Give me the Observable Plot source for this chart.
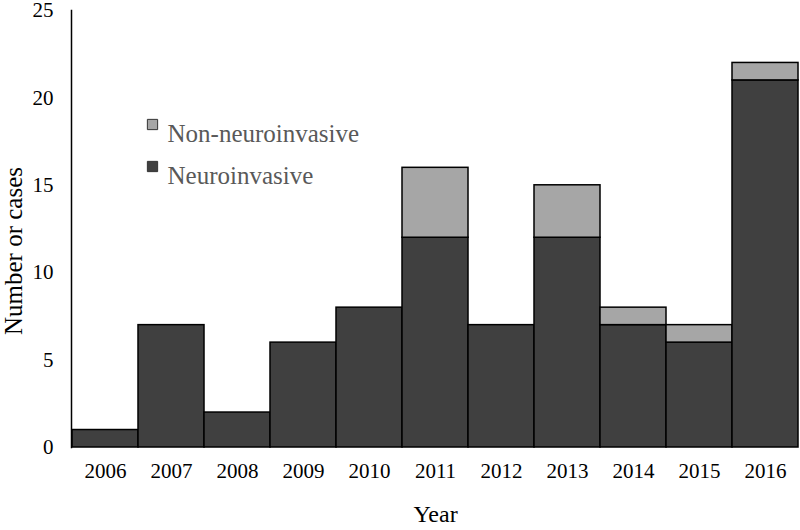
<!DOCTYPE html>
<html>
<head>
<meta charset="utf-8">
<script src="https://cdn.jsdelivr.net/npm/d3@7"></script>
<script src="https://cdn.jsdelivr.net/npm/@observablehq/plot@0.6"></script>
<style>
  body { margin: 0; background: #fff; }
  #chart { width: 800px; height: 530px; overflow: hidden; }
</style>
</head>
<body>
<div id="chart"></div>
<script>
const years = ["2006","2007","2008","2009","2010","2011","2012","2013","2014","2015","2016"];
const neuro = [1, 7, 2, 6, 8, 12, 7, 12, 7, 6, 21];
const nonNeuro = [0, 0, 0, 0, 0, 4, 0, 3, 1, 1, 1];
const seriesNames = ["Neuroinvasive", "Non-neuroinvasive"];
const seriesColors = ["#404040", "#a6a6a6"];
const yTicks = [0, 5, 10, 15, 20, 25];

const data = years.flatMap((y, i) => [
  {year: y, series: seriesNames[0], value: neuro[i]},
  {year: y, series: seriesNames[1], value: nonNeuro[i]}
]).filter(d => d.value > 0);

const legendItems = [seriesNames[1], seriesNames[0]];
const serif = "'Liberation Serif', 'Times New Roman', serif";

const chart = Plot.plot({
  width: 800,
  height: 530,
  marginLeft: 71,
  marginRight: 1,
  marginTop: 10,
  marginBottom: 83,
  style: {fontFamily: serif, fontSize: "21px", color: "#000", background: "#fff"},
  x: {domain: years, padding: 0, label: null},
  y: {domain: [0, 25], label: null},
  color: {domain: seriesNames, range: seriesColors},
  marks: [
    Plot.barY(data, Plot.stackY({order: seriesNames}, {x: "year", y: "value", fill: "series", stroke: "#000", strokeWidth: 1.5})),
    Plot.frame({anchor: "left", stroke: "#000", strokeWidth: 1.5}),
    Plot.axisY({ticks: yTicks, tickSize: 0, tickPadding: 18, fontSize: 21, fontFamily: serif, fill: "#000", label: null}),
    Plot.axisX({tickSize: 0, tickPadding: 16, fontSize: 21, fontFamily: serif, fill: "#000", label: null}),
    Plot.text(["Number or cases"], {frameAnchor: "left", textAnchor: "middle", dx: -58, dy: 22, rotate: -90, fontSize: 25, fontFamily: serif, fill: "#000"}),
    Plot.text(["Year"], {frameAnchor: "bottom", dy: 74, fontSize: 24, fontFamily: serif, fill: "#000"}),
    ...legendItems.map((s, i) => Plot.dot([s], {frameAnchor: "top-left", dx: 81, dy: 114 + i * 42, symbol: "square", r: 5.8, fill: seriesColors[seriesNames.indexOf(s)], stroke: "#333", strokeWidth: 1})),
    ...legendItems.map((s, i) => Plot.text([s], {text: d => d, frameAnchor: "top-left", dx: 96, dy: 114 + i * 42, textAnchor: "start", fontSize: 25, fontFamily: serif, fill: "#595959"}))
  ]
});
document.getElementById("chart").appendChild(chart);
</script>
</body>
</html>
